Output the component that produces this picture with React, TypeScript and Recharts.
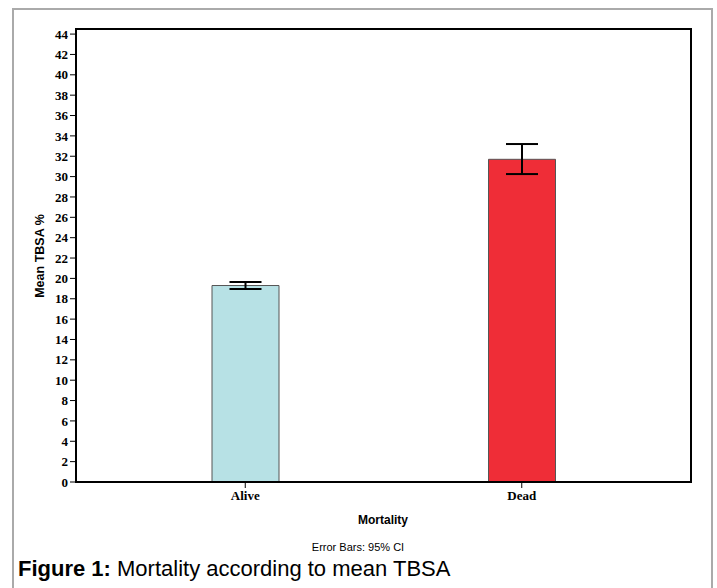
import React from 'react';
import { BarChart, Bar, XAxis, YAxis, ErrorBar, Cell } from 'recharts';

const groups = ['Alive', 'Dead'];
const meanTbsa = [19.3, 31.7];
const ciLow = [18.95, 30.25];
const ciHigh = [19.65, 33.2];
const yTicks = [0, 2, 4, 6, 8, 10, 12, 14, 16, 18, 20, 22, 24, 26, 28, 30, 32, 34, 36, 38, 40, 42, 44];
const barColors = ['#b7e1e5', '#ef2d37'];

const data = groups.map((name, i) => ({
  name,
  mean: meanTbsa[i],
  ci: [meanTbsa[i] - ciLow[i], ciHigh[i] - meanTbsa[i]],
}));

const serifTick = { fill: '#000', fontSize: 13, fontWeight: 700, fontFamily: '"Liberation Serif", "Times New Roman", serif' };
const sans = '"Liberation Sans", Arial, sans-serif';

// plot area edges (must agree with the chart margins below)
const plotLeft = 76;
const plotTop = 29;
const plotRight = 691;
const plotBottom = 482;

export default function App() {
  return (
    <div style={{ position: 'absolute', left: 0, top: 0, width: 717, height: 588, background: '#fff', fontFamily: sans }}>
      {/* figure frame */}
      <div
        style={{
          position: 'absolute',
          left: 12,
          top: 8,
          width: 697,
          height: 580,
          borderTop: '2px solid #aaa',
          borderLeft: '2px solid #aaa',
          borderRight: '2px solid #aaa',
        }}
      />
      <div style={{ position: 'absolute', left: 0, top: 0 }}>
        <BarChart width={717} height={512} data={data} margin={{ top: plotTop, right: 717 - plotRight, left: 0, bottom: 0 }}>
          <XAxis
            dataKey="name"
            height={512 - plotBottom}
            padding={{ left: 31, right: 31 }}
            axisLine={false}
            tickLine={{ stroke: '#000' }}
            tickSize={6}
            tickMargin={3}
            tick={serifTick}
          />
          <YAxis
            width={plotLeft}
            domain={[0, 44.5]}
            ticks={yTicks}
            interval={0}
            allowDataOverflow
            axisLine={false}
            tickLine={{ stroke: '#000' }}
            tickSize={6}
            tickMargin={2}
            tick={serifTick}
          />
          <Bar dataKey="mean" barSize={67} stroke="#555" strokeWidth={1} isAnimationActive={false}>
            {data.map((d, i) => (
              <Cell key={d.name} fill={barColors[i]} />
            ))}
            <ErrorBar dataKey="ci" width={16} stroke="#000" strokeWidth={2} direction="y" />
          </Bar>
        </BarChart>
      </div>
      {/* plot box */}
      <div
        style={{
          position: 'absolute',
          boxSizing: 'border-box',
          left: plotLeft - 1,
          top: plotTop - 1,
          width: plotRight - plotLeft + 2,
          height: plotBottom - plotTop + 2,
          border: '2px solid #000',
          pointerEvents: 'none',
        }}
      />
      <div
        style={{
          position: 'absolute',
          left: 40,
          top: 256,
          transform: 'translate(-50%, -50%) rotate(-90deg)',
          fontSize: 12.5,
          fontWeight: 700,
          whiteSpace: 'nowrap',
        }}
      >
        Mean TBSA %
      </div>
      <div style={{ position: 'absolute', left: 383, top: 520, transform: 'translate(-50%, -50%)', fontSize: 12, fontWeight: 700 }}>
        Mortality
      </div>
      <div style={{ position: 'absolute', left: 358, top: 547, transform: 'translate(-50%, -50%)', fontSize: 11, whiteSpace: 'nowrap' }}>
        Error Bars: 95% CI
      </div>
      <div style={{ position: 'absolute', left: 18, top: 556, fontSize: 22, whiteSpace: 'nowrap', color: '#000', lineHeight: '26px' }}>
        <b>Figure 1:</b> Mortality according to mean TBSA
      </div>
    </div>
  );
}
